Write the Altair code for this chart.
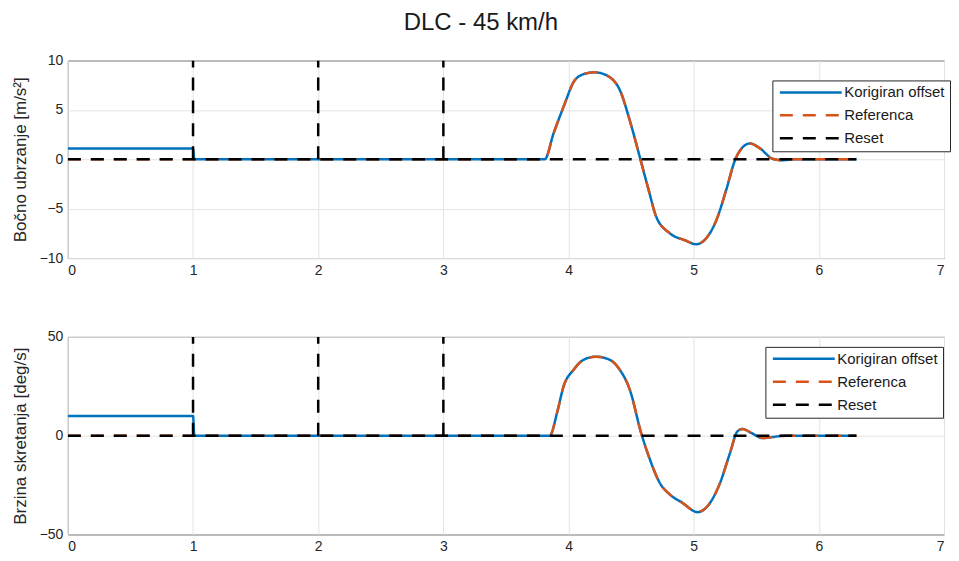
import altair as alt
import pandas as pd

# ---------------- data ----------------
series_names = ["Korigiran offset", "Referenca", "Reset"]
series_colors = ["#0072BD", "#D95319", "#000000"]
series_dash = [[1, 0], [13, 10], [13, 10]]
x_ticks = [0, 1, 2, 3, 4, 5, 6, 7]

# lateral acceleration panel
t_acc = [0, 1, 1.01, 3.81, 3.88, 3.96, 4.05, 4.13, 4.21, 4.33, 4.41, 4.49, 4.57,
         4.64, 4.70, 4.81, 4.93, 5.02, 5.10, 5.18, 5.26, 5.33, 5.39, 5.45, 5.53,
         5.63, 5.71, 5.80, 6.30]
acc_offset = [1.1, 1.1, 0, 0, 2.6, 5.3, 8.0, 8.65, 8.8, 8.3, 7.0, 3.9, 0.2,
              -3.1, -5.8, -7.5, -8.2, -8.6, -8.0, -6.2, -3.1, -0.1, 1.2, 1.6, 1.1,
              0.05, -0.1, 0, 0]
acc_ref = [0, 0, 0, 0, 2.6, 5.3, 8.0, 8.65, 8.8, 8.3, 7.0, 3.9, 0.2,
           -3.1, -5.8, -7.5, -8.2, -8.6, -8.0, -6.2, -3.1, -0.1, 1.2, 1.6, 1.1,
           0.05, -0.1, 0, 0]
acc_ticks = [-10, -5, 0, 5, 10]

# yaw rate panel
t_yaw = [0, 1, 1.01, 3.85, 3.91, 3.96, 4.04, 4.12, 4.22, 4.33, 4.41, 4.49, 4.58,
         4.65, 4.73, 4.81, 4.91, 5.03, 5.11, 5.21, 5.29, 5.35, 5.39, 5.46, 5.55,
         5.68, 5.75, 6.30]
yaw_offset = [10, 10, 0, 0, 12, 24.9, 33.3, 38.4, 40, 38.4, 33.3, 23.2, 1.4,
              -12, -24, -29.8, -34, -38.7, -35.7, -24, -8.8, 2.2, 3.4, 1.4, -1.2,
              -0.3, 0, 0]
yaw_ref = [0, 0, 0, 0, 12, 24.9, 33.3, 38.4, 40, 38.4, 33.3, 23.2, 1.4,
           -12, -24, -29.8, -34, -38.7, -35.7, -24, -8.8, 2.2, 3.4, 1.4, -1.2,
           -0.3, 0, 0]
yaw_ticks = [-50, 0, 50]

# reset signal: baseline segment plus one pulse segment at each reset time
reset_seg = [0, 0, 1, 1, 2, 2, 3, 3]
t_reset = [0, 6.30, 1, 1, 2, 2, 3, 3]
reset_acc = [0, 0, 0, 10, 0, 10, 0, 10]
reset_yaw = [0, 0, 0, 50, 0, 50, 0, 50]


def frame(t, v, name, seg=None):
    df = pd.DataFrame({"t": t, "v": v, "series": name, "idx": list(range(len(t)))})
    df["seg"] = seg if seg is not None else 0
    return df


FONT = "Liberation Sans"


def panel(t, off, ref, reset, ytitle, ydomain, yticks, legx, legy):
    leg = alt.Legend(
        orient="none", legendX=legx, legendY=legy, title=None,
        symbolType="stroke", symbolSize=3844, symbolStrokeWidth=2.5,
        symbolOffset=1, clipHeight=14, rowPadding=8, padding=5,
        strokeColor="#262626", fillColor="white", cornerRadius=0,
        labelFont=FONT, labelFontSize=15, labelColor="#1a1a1a", labelOffset=1,
    )
    color = alt.Color("series:N", scale=alt.Scale(domain=series_names, range=series_colors),
                      legend=leg, title=None)
    dash = alt.StrokeDash("series:N", scale=alt.Scale(domain=series_names, range=series_dash),
                          legend=leg, title=None)
    x = alt.X("t:Q", scale=alt.Scale(domain=[0, 7], nice=False, zero=False),
              axis=alt.Axis(values=x_ticks, format="d"), title=None)
    y = alt.Y("v:Q", scale=alt.Scale(domain=ydomain, nice=False),
              axis=alt.Axis(values=yticks), title=ytitle)

    blue = alt.Chart(frame(t, off, series_names[0])).mark_line(
        clip=True, strokeWidth=2.5, interpolate="monotone"
    ).encode(x=x, y=y, color=color, strokeDash=dash, order="idx:Q")
    orange = alt.Chart(frame(t, ref, series_names[1])).mark_line(
        clip=True, strokeWidth=2.5, interpolate="monotone"
    ).encode(x=x, y=y, color=color, strokeDash=dash, order="idx:Q")
    black = alt.Chart(frame(t_reset, reset, series_names[2], reset_seg)).mark_line(
        clip=True, strokeWidth=2.5
    ).encode(x=x, y=y, color=color, strokeDash=dash, detail="seg:N", order="idx:Q")
    return alt.layer(blue, orange, black).properties(width=878, height=198)


top = panel(t_acc, acc_offset, acc_ref, reset_acc, "Bočno ubrzanje [m/s²]",
            [-10, 10], acc_ticks, 706, 20)
bottom = panel(t_yaw, yaw_offset, yaw_ref, reset_yaw, "Brzina skretanja [deg/s]",
               [-50, 50], yaw_ticks, 699, 10)

chart = alt.vconcat(top, bottom, spacing=51).resolve_legend(
    color="independent", strokeDash="independent"
).properties(
    title=alt.TitleParams("DLC - 45 km/h", font=FONT, fontSize=24, fontWeight="normal",
                          color="#1a1a1a", anchor="middle", offset=18),
    padding={"left": 2, "top": 2, "right": 0, "bottom": 0},
).configure_axis(
    labelFont=FONT, labelFontSize=14, labelColor="#262626", labelPadding=5,
    titleFont=FONT, titleFontSize=17, titleFontWeight="normal", titleColor="#262626",
    titlePadding=10, gridColor="#e3e3e3", gridWidth=1, domain=False, ticks=False,
).configure_view(
    stroke="#262626", strokeWidth=1
)

chart.save("out.html", embed_options={"renderer": "svg", "actions": False})
